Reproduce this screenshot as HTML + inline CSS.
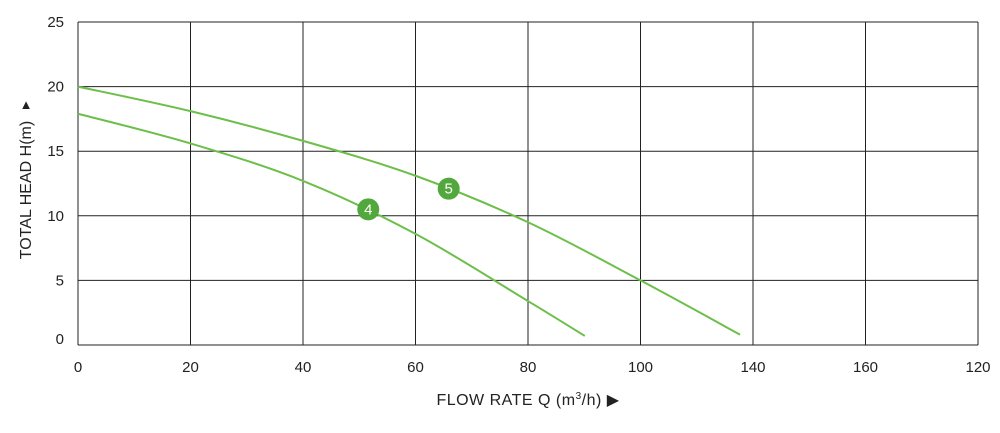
<!DOCTYPE html>
<html><head><meta charset="utf-8"><style>
body{margin:0;background:#fff;width:1000px;height:428px;overflow:hidden}
text{font-family:"Liberation Sans",sans-serif;fill:#222}
</style></head><body>
<svg width="1000" height="428">
<g id="grid"></g>
<g id="curves"></g>
<text x="31" y="190" font-size="16" text-anchor="middle" transform="rotate(-90 31 190)">TOTAL HEAD H(m)</text>
<text x="26" y="109" font-size="13" text-anchor="middle">▲</text>
<text x="528" y="405" font-size="16" text-anchor="middle" letter-spacing="0.5">FLOW RATE Q (m<tspan font-size="10" dy="-6">3</tspan><tspan dy="6">/h)</tspan> ▶</text>
</svg>
<script>
const xTicks=[0,20,40,60,80,100,120,140,160];
const xTickLabels=["0","20","40","60","80","100","140","160","120"];
const yTicks=[0,5,10,15,20,25];
const curve5Q=[0,20,40,60,80,100,117.7];
const curve5H=[20,18.1,15.8,13.1,9.5,5.0,0.8];
const curve4Q=[0,20,40,60,80,90.1];
const curve4H=[17.9,15.6,12.7,8.6,3.4,0.7];
const labels=[{name:"5",q:65.9,h:12.1},{name:"4",q:51.6,h:10.5}];
const X0=78,X1=978,Y0=345,Y1=22;
const sx=q=>X0+(q-0)/160*(X1-X0);
const sy=h=>Y0-(h/25)*(Y0-Y1);
const NS="http://www.w3.org/2000/svg";
const grid=document.getElementById('grid'),cv=document.getElementById('curves');
function mk(tag,attrs,parent){const e=document.createElementNS(NS,tag);for(const k in attrs)e.setAttribute(k,attrs[k]);parent.appendChild(e);return e;}
xTicks.forEach((t,i)=>{
 const l=mk('line',{x1:sx(t),x2:sx(t),y1:Y1,y2:Y0,stroke:'#222','stroke-width':1},grid);
 
 
 const tx=mk('text',{x:sx(t),y:372,'font-size':15,'text-anchor':'middle'},grid);
 tx.textContent=xTickLabels[i];
 
 
});
yTicks.forEach(t=>{
 const l=mk('line',{x1:X0,x2:X1,y1:sy(t),y2:sy(t),stroke:'#222','stroke-width':1},grid);
 
 
 const tx=mk('text',{x:64,y:(t===0?sy(t)-1:sy(t)+5),'font-size':15,'text-anchor':'end'},grid);
 tx.textContent=t;
 
 
});
function path(Q,H){
 const p=Q.map((q,i)=>[sx(q),sy(H[i])]);
 let d='M'+p[0][0]+','+p[0][1];
 for(let i=0;i<p.length-1;i++){
  const a=p[i-1]||p[i],b=p[i],c=p[i+1],e=p[i+2]||c;
  d+=' C'+(b[0]+(c[0]-a[0])/6)+','+(b[1]+(c[1]-a[1])/6)+' '+(c[0]-(e[0]-b[0])/6)+','+(c[1]-(e[1]-b[1])/6)+' '+c[0]+','+c[1];
 }
 return d;
}
const c5=mk('path',{d:path(curve5Q,curve5H),fill:'none',stroke:'#6cbf4a','stroke-width':2},cv);


const c4=mk('path',{d:path(curve4Q,curve4H),fill:'none',stroke:'#6cbf4a','stroke-width':2},cv);


labels.forEach(lb=>{
 const c=mk('circle',{cx:sx(lb.q),cy:sy(lb.h),r:11,fill:'#52a83c'},cv);
 
 
 const t=mk('text',{x:sx(lb.q),y:sy(lb.h)+5,'font-size':15,'text-anchor':'middle',style:'fill:#fff'},cv);
 t.textContent=lb.name;
 
 
});
</script>
</body></html>
